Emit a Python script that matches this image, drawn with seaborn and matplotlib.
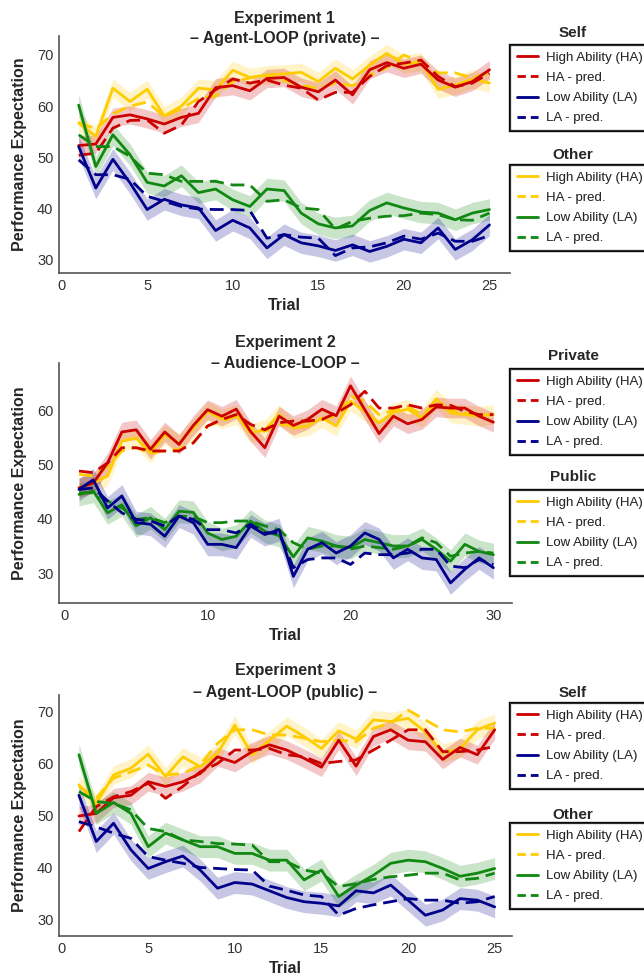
import numpy as np
import pandas as pd
import seaborn as sns
import matplotlib.pyplot as plt
from matplotlib.lines import Line2D

# ---- data ----
TRIALS_25 = list(range(1, 26))
TRIALS_30 = list(range(1, 31))

# Experiment 1 - Agent-LOOP (private)
E1_SELF_HA = [52.3, 52.6, 57.8, 58.3, 57.5, 56.5, 57.8, 58.6, 63.6, 64.0, 63.0, 65.4, 65.6,
              63.7, 62.8, 65.1, 62.2, 67.1, 68.5, 67.4, 68.2, 65.1, 63.7, 64.8, 67.1]
E1_SELF_HA_PRED = [50.4, 50.8, 55.7, 57.2, 57.3, 54.7, 56.3, 60.9, 63.2, 65.3, 64.5, 65.1, 64.1,
                   63.5, 61.2, 62.7, 62.7, 65.8, 67.9, 68.4, 69.0, 65.8, 63.8, 64.5, 66.4]
E1_SELF_LA = [52.1, 44.0, 49.6, 45.0, 39.8, 41.8, 40.7, 40.1, 35.7, 37.7, 36.2, 32.3, 34.9,
              33.3, 32.7, 31.8, 32.9, 31.6, 32.6, 34.0, 33.3, 36.2, 32.0, 33.9, 36.8]
E1_SELF_LA_PRED = [49.5, 46.6, 46.6, 45.7, 42.4, 41.4, 40.4, 39.9, 39.8, 39.8, 39.6, 34.2, 34.9,
                   34.4, 34.2, 30.8, 32.3, 32.5, 33.3, 34.6, 34.0, 35.2, 33.6, 33.6, 34.7]
E1_OTHER_HA = [56.7, 54.1, 63.5, 60.9, 63.3, 58.1, 60.0, 63.5, 63.2, 67.0, 65.6, 66.1, 66.3,
               66.6, 64.8, 67.4, 65.3, 68.0, 70.3, 68.2, 68.7, 63.3, 64.1, 65.3, 64.5]
E1_OTHER_HA_PRED = [56.8, 55.5, 58.5, 60.0, 60.8, 58.0, 59.5, 61.5, 62.0, 64.8, 65.5, 66.0, 65.0,
                    64.0, 63.5, 64.5, 64.0, 66.0, 67.5, 70.0, 68.5, 66.5, 66.5, 65.5, 66.5]
E1_OTHER_LA = [60.2, 48.2, 54.4, 50.5, 45.1, 44.4, 46.4, 43.1, 43.8, 41.7, 40.4, 43.8, 43.5,
               39.1, 37.0, 36.2, 36.6, 39.6, 41.1, 40.1, 39.3, 39.1, 37.8, 39.1, 39.8]
E1_OTHER_LA_PRED = [54.4, 52.1, 52.1, 50.2, 46.9, 46.6, 45.3, 45.3, 45.3, 44.6, 44.6, 41.4, 41.7,
                    40.1, 39.8, 36.0, 37.5, 38.1, 38.5, 38.6, 39.1, 38.8, 37.8, 37.7, 39.1]

# Experiment 2 - Audience-LOOP
E2_PRIV_HA = [45.7, 46.6, 50.3, 56.0, 56.4, 52.8, 56.0, 53.7, 57.2, 60.1, 58.9, 60.2, 56.1, 53.1, 58.9,
              57.2, 58.3, 60.2, 59.0, 64.5, 60.1, 55.7, 58.9, 57.5, 58.3, 60.6, 60.4, 60.4, 58.9, 57.8]
E2_PRIV_HA_PRED = [48.8, 48.5, 50.3, 53.1, 53.1, 52.5, 52.5, 52.5, 54.0, 57.1, 58.3, 59.2, 57.4, 56.4, 57.7,
                   58.0, 58.0, 58.3, 59.5, 61.0, 63.5, 60.4, 60.4, 61.0, 60.4, 61.0, 60.9, 59.8, 59.2, 59.2]
E2_PRIV_LA = [45.4, 47.2, 42.0, 44.2, 39.3, 39.0, 36.8, 40.5, 39.3, 35.3, 35.3, 34.7, 38.7, 37.1, 38.0,
              29.4, 34.4, 35.6, 33.7, 35.0, 37.4, 36.2, 32.8, 34.4, 32.8, 32.5, 28.2, 30.7, 32.8, 31.0]
E2_PRIV_LA_PRED = [45.4, 45.7, 43.3, 41.1, 39.9, 39.6, 38.7, 40.5, 39.9, 38.0, 38.0, 37.4, 39.0, 37.4, 37.4,
                   31.0, 32.5, 32.8, 32.8, 31.6, 33.7, 33.4, 33.4, 33.7, 34.4, 34.4, 31.3, 31.0, 32.5, 31.6]
E2_PUB_HA = [45.7, 46.6, 47.9, 54.3, 54.9, 52.1, 55.5, 53.9, 56.7, 59.8, 58.4, 59.2, 55.8, 56.4, 59.2,
             56.7, 57.1, 58.6, 57.1, 61.7, 59.8, 57.7, 59.6, 60.2, 58.6, 62.1, 59.5, 59.2, 58.9, 59.2]
E2_PUB_HA_PRED = [48.2, 47.9, 49.7, 52.5, 53.1, 52.1, 52.5, 52.8, 54.0, 57.1, 58.0, 58.9, 56.7, 56.1, 57.4,
                  57.1, 58.0, 58.3, 58.9, 62.6, 61.7, 59.2, 60.0, 60.7, 59.2, 60.7, 60.0, 59.5, 59.2, 59.2]
E2_PUB_LA = [44.5, 45.1, 41.1, 42.6, 38.7, 40.2, 38.0, 41.4, 41.2, 37.4, 36.2, 36.8, 39.6, 37.7, 36.9,
             33.0, 36.5, 35.9, 35.0, 34.7, 36.2, 35.6, 35.0, 35.0, 36.2, 34.4, 32.2, 35.3, 34.0, 33.4]
E2_PUB_LA_PRED = [44.8, 44.8, 43.3, 42.0, 39.9, 40.2, 39.3, 40.5, 40.4, 39.3, 39.3, 39.6, 39.6, 38.7, 38.0,
                  35.6, 34.4, 35.0, 35.0, 34.4, 35.0, 34.7, 34.4, 35.0, 36.5, 35.6, 33.1, 33.7, 34.0, 33.7]

# Experiment 3 - Agent-LOOP (public)
E3_SELF_HA = [49.9, 50.4, 53.4, 53.9, 56.5, 55.6, 56.5, 58.1, 61.3, 60.2, 62.3, 63.6, 62.6,
              61.0, 59.3, 64.5, 59.5, 65.2, 66.5, 64.5, 64.2, 60.8, 63.1, 61.7, 66.5]
E3_SELF_HA_PRED = [46.9, 51.7, 53.6, 54.6, 56.2, 53.3, 55.6, 58.4, 60.0, 62.6, 62.6, 62.9, 61.7,
                   61.3, 60.0, 60.4, 60.7, 62.6, 64.5, 66.5, 66.5, 62.3, 62.3, 62.6, 63.3]
E3_SELF_LA = [53.9, 45.0, 48.5, 43.4, 39.8, 41.1, 42.2, 39.5, 36.0, 37.1, 36.8, 35.5, 34.2,
              33.4, 33.1, 32.6, 35.5, 35.1, 36.6, 33.7, 30.8, 31.8, 34.0, 33.7, 32.4]
E3_SELF_LA_PRED = [48.8, 47.8, 46.6, 45.6, 42.1, 41.4, 40.8, 40.0, 39.8, 39.6, 39.5, 36.4, 35.6,
                   34.7, 34.4, 30.8, 32.1, 32.8, 33.4, 34.0, 33.7, 33.7, 33.1, 33.4, 34.4]
E3_OTHER_HA = [55.9, 52.3, 57.8, 59.1, 61.8, 57.5, 61.3, 59.4, 62.0, 67.4, 61.7, 64.5, 67.2,
               65.2, 62.9, 66.3, 64.7, 68.4, 68.1, 68.7, 66.1, 62.0, 62.9, 66.5, 67.8]
E3_OTHER_HA_PRED = [55.6, 53.3, 57.2, 58.4, 59.7, 57.8, 58.1, 59.7, 63.9, 66.5, 66.5, 65.5, 65.5,
                    64.9, 64.2, 64.5, 64.2, 66.8, 67.8, 70.3, 68.4, 66.5, 66.1, 66.8, 66.8]
E3_OTHER_LA = [61.7, 50.4, 52.5, 50.4, 44.0, 46.6, 45.3, 44.0, 44.0, 42.7, 42.7, 41.4, 41.4,
               37.6, 39.5, 34.4, 36.6, 38.5, 40.8, 41.4, 41.1, 39.8, 38.3, 38.9, 39.8]
E3_OTHER_LA_PRED = [54.6, 52.7, 52.3, 51.1, 47.5, 46.9, 45.3, 45.0, 44.6, 44.5, 44.3, 41.1, 41.1,
                    39.5, 38.9, 36.3, 36.9, 37.7, 38.2, 38.5, 38.9, 38.9, 37.6, 37.9, 38.9]

# approximate half-width of the shaded bands (observed lines only)
BAND_HA = 1.8
BAND_LA = 2.1

RED, BLUE, YELLOW, GREEN = "#cc0000", "#00008b", "#ffcc00", "#118811"

sns.set_theme(style="white")
plt.rcParams['font.family'] = ['Liberation Sans', 'DejaVu Sans']

W, H = 644, 976
fig = plt.figure(figsize=(W / 100, H / 100), dpi=100)


def px_axes(left, top, right, bottom):
    return fig.add_axes([left / W, 1 - bottom / H, (right - left) / W, (bottom - top) / H])


def draw_panel(ax, trials, series, xlim, ylim, xticks, yticks):
    # series: list of (values, pred_values, color, band)
    for obs, pred, color, band in series:
        lo = np.array(obs) - band
        hi = np.array(obs) + band
        ax.fill_between(trials, lo, hi, color=color, alpha=0.22, lw=0)
    for obs, pred, color, band in series:
        sns.lineplot(x=trials, y=pred, color=color, lw=2, linestyle=(0, (5, 2.5)),
                     errorbar=None, ax=ax)
        sns.lineplot(x=trials, y=obs, color=color, lw=2, errorbar=None, ax=ax)
    ax.set_xlim(*xlim)
    ax.set_ylim(*ylim)
    ax.set_xticks(xticks)
    ax.set_yticks(yticks)
    ax.tick_params(labelsize=10.5, colors="#333333", length=0, pad=4)
    ax.set_xlabel("Trial", fontsize=11.5, fontweight="bold", labelpad=4)
    ax.set_ylabel("Performance Expectation", fontsize=11.5, fontweight="bold", labelpad=7)
    sns.despine(ax=ax)
    for s in ["left", "bottom"]:
        ax.spines[s].set_color("#555555")
        ax.spines[s].set_linewidth(1.2)


def add_title(ax_left, ax_right, y1, y2, line1, line2):
    xc = (ax_left + ax_right) / 2 / W
    fig.text(xc, 1 - y1 / H, line1, ha="center", va="center", fontsize=11.5, fontweight="bold")
    fig.text(xc, 1 - y2 / H, line2, ha="center", va="center", fontsize=11.5, fontweight="bold")


def add_legend(title, top_px, title_px, c_hi, c_lo):
    handles = [
        Line2D([], [], color=c_hi, lw=2),
        Line2D([], [], color=c_hi, lw=2, linestyle=(0, (3, 1.8))),
        Line2D([], [], color=c_lo, lw=2),
        Line2D([], [], color=c_lo, lw=2, linestyle=(0, (3, 1.8))),
    ]
    labels = ["High Ability (HA)", "HA - pred.", "Low Ability (LA)", "LA - pred."]
    leg = fig.legend(handles, labels, loc="upper left",
                     bbox_to_anchor=(510 / W, 1 - top_px / H), bbox_transform=fig.transFigure,
                     frameon=True, fancybox=False, fontsize=9.5, handlelength=1.6,
                     handletextpad=0.6, labelspacing=0.6, borderpad=0.5, borderaxespad=0)
    leg.get_frame().set_edgecolor("black")
    leg.get_frame().set_linewidth(1.6)
    fig.add_artist(leg)
    fig.text(573 / W, 1 - title_px / H, title, ha="center", va="center",
             fontsize=11, fontweight="bold")


# ---- Experiment 1 ----
ax1 = px_axes(59, 36, 510, 273)
draw_panel(ax1, TRIALS_25,
           [(E1_OTHER_HA, E1_OTHER_HA_PRED, YELLOW, BAND_HA),
            (E1_SELF_HA, E1_SELF_HA_PRED, RED, BAND_HA),
            (E1_OTHER_LA, E1_OTHER_LA_PRED, GREEN, BAND_LA),
            (E1_SELF_LA, E1_SELF_LA_PRED, BLUE, BAND_LA)],
           (-0.15, 26.2), (27.4, 73.7), [0, 5, 10, 15, 20, 25], [30, 40, 50, 60, 70])
add_title(59, 510, 18, 39, "Experiment 1", "\u2013 Agent-LOOP (private) \u2013")
add_legend("Self", 45, 33, RED, BLUE)
add_legend("Other", 165, 155, YELLOW, GREEN)

# ---- Experiment 2 ----
ax2 = px_axes(59, 363, 512, 603)
draw_panel(ax2, TRIALS_30,
           [(E2_PUB_HA, E2_PUB_HA_PRED, YELLOW, BAND_HA),
            (E2_PRIV_HA, E2_PRIV_HA_PRED, RED, BAND_HA),
            (E2_PUB_LA, E2_PUB_LA_PRED, GREEN, BAND_LA),
            (E2_PRIV_LA, E2_PRIV_LA_PRED, BLUE, BAND_LA)],
           (-0.4, 31.3), (24.5, 68.7), [0, 10, 20, 30], [30, 40, 50, 60])
add_title(59, 512, 343, 364, "Experiment 2", "\u2013 Audience-LOOP \u2013")
add_legend("Private", 369, 356, RED, BLUE)
add_legend("Public", 490, 477, YELLOW, GREEN)

# ---- Experiment 3 ----
ax3 = px_axes(59, 695, 512, 936)
draw_panel(ax3, TRIALS_25,
           [(E3_OTHER_HA, E3_OTHER_HA_PRED, YELLOW, BAND_HA),
            (E3_SELF_HA, E3_SELF_HA_PRED, RED, BAND_HA),
            (E3_OTHER_LA, E3_OTHER_LA_PRED, GREEN, BAND_LA),
            (E3_SELF_LA, E3_SELF_LA_PRED, BLUE, BAND_LA)],
           (-0.15, 26.0), (26.8, 73.2), [0, 5, 10, 15, 20, 25], [30, 40, 50, 60, 70])
add_title(59, 512, 671, 692, "Experiment 3", "\u2013 Agent-LOOP (public) \u2013")
add_legend("Self", 703, 693, RED, BLUE)
add_legend("Other", 823, 815, YELLOW, GREEN)

fig.savefig("out.png", dpi=100)
